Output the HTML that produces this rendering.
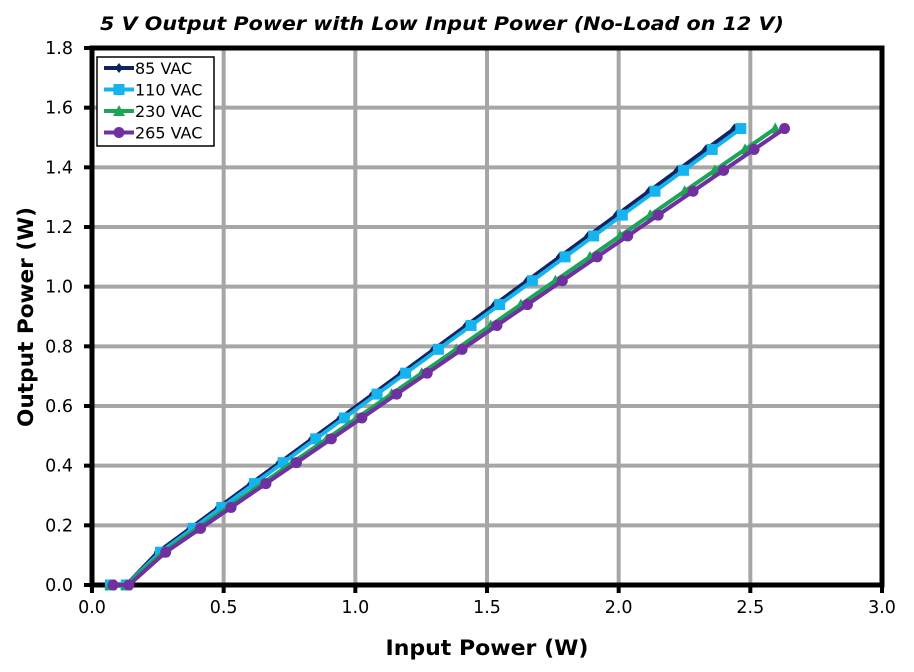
<!DOCTYPE html>
<html><head><meta charset="utf-8"><style>
body{margin:0;background:#fff;}
svg{display:block;font-family:"DejaVu Sans","Liberation Sans",sans-serif;}
</style></head><body>
<svg id="s" width="914" height="672" viewBox="0 0 914 672" xmlns="http://www.w3.org/2000/svg">
<rect width="914" height="672" fill="#fff"/>
<text x="442" y="30" text-anchor="middle" font-size="19" font-weight="bold" font-style="italic" fill="#000" textLength="684" lengthAdjust="spacingAndGlyphs">5 V Output Power with Low Input Power (No-Load on 12 V)</text>
<g id="grid" stroke="#a6a6a6" stroke-width="4"></g>
<g id="ticks" font-size="17.5" fill="#000"></g>
<rect x="92" y="48" width="790" height="537" fill="none" stroke="#000" stroke-width="5"/>
<g id="series"></g>
<text x="487" y="655" text-anchor="middle" font-size="21" font-weight="bold" textLength="203" lengthAdjust="spacingAndGlyphs">Input Power (W)</text>
<text transform="translate(33,317) rotate(-90)" text-anchor="middle" font-size="21" font-weight="bold" textLength="220" lengthAdjust="spacingAndGlyphs">Output Power (W)</text>
<rect x="97" y="57" width="117" height="89" fill="#fff" stroke="#000" stroke-width="1.5"/>
<g id="legend" font-size="16"></g>
</svg>
<script>
var NS="http://www.w3.org/2000/svg";
function X(v){return 92+v*790/3;}function Y(v){return 585-v*537/1.8;}
function el(t,a,p){var e=document.createElementNS(NS,t);for(var k in a)e.setAttribute(k,a[k]);p.appendChild(e);return e;}
var g=document.getElementById('grid'),tk=document.getElementById('ticks');
for(var i=1;i<6;i++){el('line',{x1:X(i*0.5),x2:X(i*0.5),y1:48,y2:585},g);}
for(var j=1;j<9;j++){el('line',{x1:92,x2:882,y1:Y(j*0.2),y2:Y(j*0.2)},g);}
for(var i=0;i<=6;i++){var t=el('text',{x:X(i*0.5),y:613,'text-anchor':'middle'},tk);t.textContent=(i*0.5).toFixed(1);
 el('line',{x1:X(i*0.5),x2:X(i*0.5),y1:585,y2:593,stroke:'#000','stroke-width':4},tk);}
for(var j=0;j<=9;j++){var t=el('text',{x:73,y:Y(j*0.2)+6,'text-anchor':'end'},tk);t.textContent=(j*0.2).toFixed(1);
 el('line',{x1:84,x2:92,y1:Y(j*0.2),y2:Y(j*0.2),stroke:'#000','stroke-width':4},tk);}
var ys=[0,0,0.11,0.19,0.26,0.34,0.41,0.49,0.56,0.64,0.71,0.79,0.87,0.94,1.02,1.10,1.17,1.24,1.32,1.39,1.46,1.53];
var S=[
 {n:'85 VAC',c:'#0f2562',m:'d',x0:0.07,x1:0.13,a:0.25,b:1.542},
 {n:'110 VAC',c:'#16b4ee',m:'s',x0:0.07,x1:0.13,a:0.26,b:1.552},
 {n:'230 VAC',c:'#1ba556',m:'t',x0:0.07,x1:0.13,a:0.27,b:1.637},
 {n:'265 VAC',c:'#7030a0',m:'c',x0:0.08,x1:0.14,a:0.28,b:1.655}];
var sg=document.getElementById('series'),lg=document.getElementById('legend');
function mark(m,x,y,c,p,sz){sz=sz||1;
 if(m=='d')el('path',{d:'M'+x+' '+(y-5*sz)+'L'+(x+4*sz)+' '+y+'L'+x+' '+(y+5*sz)+'L'+(x-4*sz)+' '+y+'Z',fill:c},p);
 else if(m=='s')el('rect',{x:x-5.5*sz,y:y-5.5*sz,width:11*sz,height:11*sz,fill:c},p);
 else if(m=='t')el('path',{d:'M'+x+' '+(y-6*sz)+'L'+(x+6*sz)+' '+(y+5*sz)+'L'+(x-6*sz)+' '+(y+5*sz)+'Z',fill:c},p);
 else el('circle',{cx:x,cy:y,r:5.5*sz,fill:c},p);}
S.forEach(function(s,k){
 var pts=ys.map(function(y,i){var x=i==0?s.x0:i==1?s.x1:s.a+(y-0.11)*s.b;return [X(x),Y(y)];});
 el('polyline',{points:pts.map(function(p){return p.join(',')}).join(' '),fill:'none',stroke:s.c,'stroke-width':4,'stroke-linejoin':'round'},sg);
 pts.forEach(function(p){mark(s.m,p[0],p[1],s.c,sg);});
 var ly=68+k*21.5;
 el('line',{x1:104,x2:134,y1:ly,y2:ly,stroke:s.c,'stroke-width':4},lg);
 mark(s.m,119,ly,s.c,lg);
 var t=el('text',{x:135,y:ly+6},lg);t.textContent=s.n;});
</script>
</body></html>
